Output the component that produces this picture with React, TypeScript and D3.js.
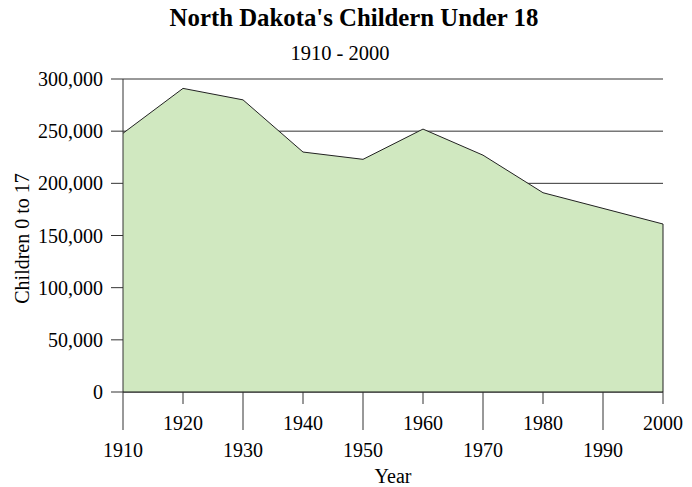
import React from 'react';
import * as d3 from 'd3';

const years = [1910, 1920, 1930, 1940, 1950, 1960, 1970, 1980, 1990, 2000];
const children = [248000, 291000, 280000, 230000, 223000, 252000, 227000, 191000, 176000, 161000];
const yTicks = [0, 50000, 100000, 150000, 200000, 250000, 300000];

const width = 692;
const height = 487;
const margin = { top: 79, right: 29, bottom: 95, left: 123 };
const font = '"Liberation Serif", "Times New Roman", serif';

export default function App() {
  const innerW = width - margin.left - margin.right;
  const innerH = height - margin.top - margin.bottom;

  const x = d3.scaleLinear().domain([1910, 2000]).range([0, innerW]);
  const y = d3.scaleLinear().domain([0, 300000]).range([innerH, 0]);

  const data = years.map((yr, i) => ({ yr, v: children[i] }));
  const area = d3
    .area<{ yr: number; v: number }>()
    .x((d) => x(d.yr))
    .y0(y(0))
    .y1((d) => y(d.v));
  const line = d3
    .line<{ yr: number; v: number }>()
    .x((d) => x(d.yr))
    .y((d) => y(d.v));

  const fmt = d3.format(',');

  return (
    <svg
      width={width}
      height={height}
      style={{ position: 'absolute', left: 0, top: 0, background: '#fff' }}
      fontFamily={font}
    >
      <text x={354} y={26} textAnchor="middle" fontSize={24.8} fontWeight="bold">
        North Dakota's Childern Under 18
      </text>
      <text x={340} y={60} textAnchor="middle" fontSize={20.5}>
        1910 - 2000
      </text>

      <g transform={`translate(${margin.left},${margin.top})`}>
        {/* gridlines */}
        {yTicks.map((t) => (
          <line key={t} x1={0} x2={innerW} y1={y(t)} y2={y(t)} stroke="#333" strokeWidth={1} />
        ))}
        {/* area */}
        <path d={area(data) ?? ''} fill="#d0e8c0" stroke="none" />
        <path d={line(data) ?? ''} fill="none" stroke="#222" strokeWidth={1} />
        <line x1={x(2000)} x2={x(2000)} y1={y(children[children.length - 1])} y2={innerH} stroke="#222" />

        {/* y axis */}
        <line x1={0} x2={0} y1={0} y2={innerH} stroke="#333" />
        {yTicks.map((t) => (
          <g key={t}>
            <line x1={-12} x2={0} y1={y(t)} y2={y(t)} stroke="#333" />
            <text x={-20} y={y(t)} dy="0.35em" textAnchor="end" fontSize={20}>
              {fmt(t)}
            </text>
          </g>
        ))}

        {/* x axis */}
        <line x1={0} x2={innerW} y1={innerH} y2={innerH} stroke="#111" />
        {years.map((yr, i) => {
          const low = i % 2 === 0;
          return (
            <g key={yr} transform={`translate(${x(yr)},${innerH})`}>
              <line y1={0} y2={low ? 38 : 12} stroke="#333" />
              <text y={low ? 58 : 31} dy="0.35em" textAnchor="middle" fontSize={20}>
                {yr}
              </text>
            </g>
          );
        })}
        <text x={innerW / 2} y={innerH + 84} dy="0.35em" textAnchor="middle" fontSize={20}>
          Year
        </text>
        <text
          transform={`translate(${-101},${innerH / 2 + 3}) rotate(-90)`}
          textAnchor="middle"
          dy="0.35em"
          fontSize={20}
        >
          Children 0 to 17
        </text>
      </g>
    </svg>
  );
}
